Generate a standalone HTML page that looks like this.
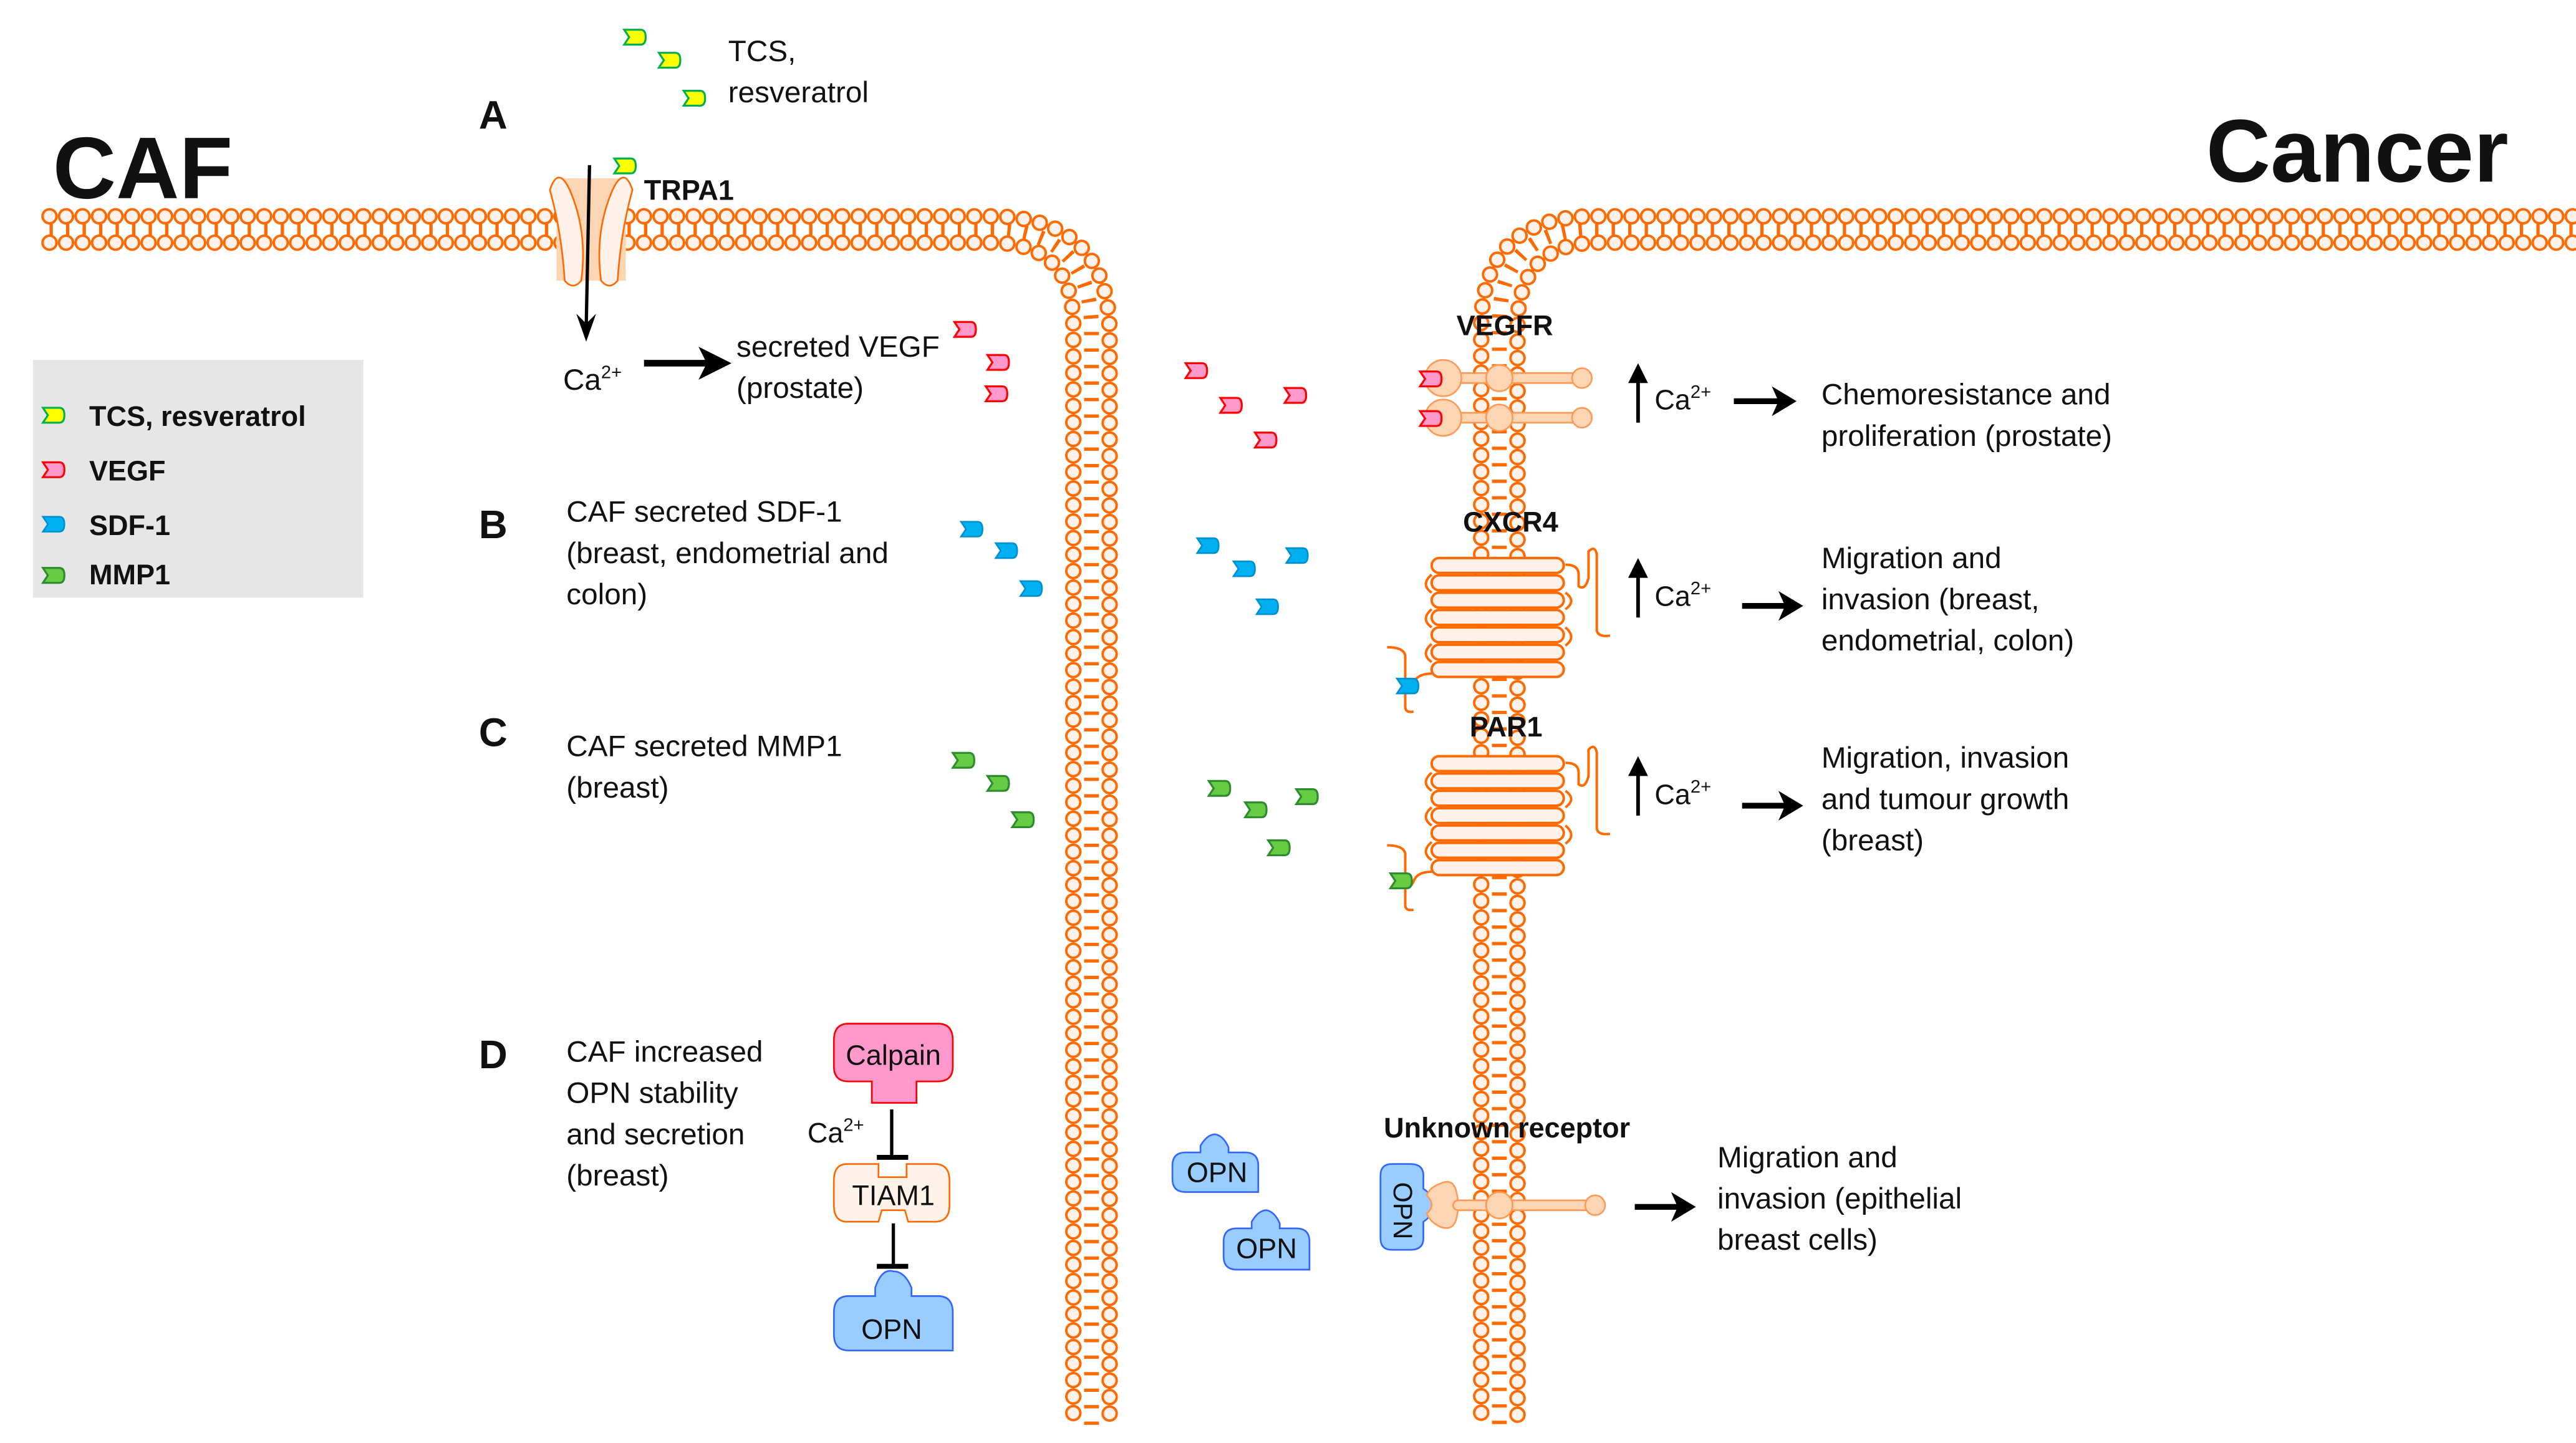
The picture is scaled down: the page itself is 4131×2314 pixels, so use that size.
<!DOCTYPE html>
<html><head><meta charset="utf-8"><style>
html,body{margin:0;padding:0;background:#fff;}
svg{display:block;}
text{font-family:"Liberation Sans",sans-serif;fill:#111;}
.b{font-weight:bold;}
</style></head><body>
<svg width="4131" height="2314" viewBox="0 0 1560 874" preserveAspectRatio="none" xmlns="http://www.w3.org/2000/svg">
<defs>
<path id="lig" d="M0 0 H10 Q13 0 13 4.5 Q13 9 10 9 H0 L3 4.5 Z"/>
<g id="tm">
 <rect x="0" y="0" width="80" height="9" rx="4.5"/>
 <rect x="0" y="10.5" width="80" height="9" rx="4.5"/>
 <rect x="0" y="21" width="80" height="9" rx="4.5"/>
 <rect x="0" y="31.5" width="80" height="9" rx="4.5"/>
 <rect x="0" y="42" width="80" height="9" rx="4.5"/>
 <rect x="0" y="52.5" width="80" height="9" rx="4.5"/>
 <rect x="0" y="63" width="80" height="9" rx="4.5"/>
</g>
</defs>
<rect width="1560" height="874" fill="#fff"/>

<!-- membranes -->
<g fill="none" stroke-linecap="round">
 <g stroke="#ff6a00">
  <path d="M30 139 H600 Q661 139 661 200 V865" stroke-width="9" stroke-dasharray="2 8" stroke-linecap="butt"/>
  <path d="M1558 139 H965 Q908 139 908 196 V865" stroke-width="9" stroke-dasharray="2 8" stroke-linecap="butt"/>
  <path d="M30 131 H600 Q672 131 672 203 V865" stroke-width="10" stroke-dasharray="0 10"/>
  <path d="M30 147 H600 Q650 147 650 197 V865" stroke-width="10" stroke-dasharray="0 10"/>
  <path d="M1558 131 H965 Q897 131 897 199 V865" stroke-width="10" stroke-dasharray="0 10"/>
  <path d="M1558 147 H968 Q919 147 919 198 V865" stroke-width="10" stroke-dasharray="0 10"/>
 </g>
 <g stroke="#fff2ea">
  <path d="M30 131 H600 Q672 131 672 203 V865" stroke-width="7" stroke-dasharray="0 10"/>
  <path d="M30 147 H600 Q650 147 650 197 V865" stroke-width="7" stroke-dasharray="0 10"/>
  <path d="M1558 131 H965 Q897 131 897 199 V865" stroke-width="7" stroke-dasharray="0 10"/>
  <path d="M1558 147 H968 Q919 147 919 198 V865" stroke-width="7" stroke-dasharray="0 10"/>
 </g>
</g>

<!-- titles -->
<text x="32" y="120" font-size="53" class="b">CAF</text>
<text x="1336" y="110" font-size="54" class="b">Cancer</text>
<text x="290" y="78" font-size="24" class="b">A</text>
<text x="290" y="326" font-size="24" class="b">B</text>
<text x="290" y="452" font-size="24" class="b">C</text>
<text x="290" y="647" font-size="24" class="b">D</text>

<!-- legend -->
<rect x="20" y="218" width="200" height="144" fill="#e6e6e6"/>
<use href="#lig" x="26" y="247" fill="#ffff00" stroke="#00b050" stroke-width="1.2"/>
<use href="#lig" x="26" y="280" fill="#ff99cc" stroke="#ff0000" stroke-width="1.2"/>
<use href="#lig" x="26" y="313" fill="#00b0f0" stroke="#0090d0" stroke-width="1"/>
<use href="#lig" x="26" y="344" fill="#66cc44" stroke="#2e8b2e" stroke-width="1.2"/>
<g font-size="17" class="b">
<text x="54" y="258" class="b">TCS, resveratrol</text>
<text x="54" y="291" class="b">VEGF</text>
<text x="54" y="324" class="b">SDF-1</text>
<text x="54" y="354" class="b">MMP1</text>
</g>

<!-- ligands -->
<g fill="#ffff00" stroke="#00b050" stroke-width="1.2">
 <use href="#lig" x="378" y="18"/><use href="#lig" x="399" y="32"/><use href="#lig" x="414" y="55"/><use href="#lig" x="372" y="96"/>
</g>
<g fill="#ff99cc" stroke="#ff0000" stroke-width="1.2">
 <use href="#lig" x="578" y="195"/><use href="#lig" x="598" y="215"/><use href="#lig" x="597" y="234"/>
 <use href="#lig" x="718" y="220"/><use href="#lig" x="739" y="241"/><use href="#lig" x="778" y="235"/><use href="#lig" x="760" y="262"/>
</g>
<g fill="#00b0f0" stroke="#0090d0" stroke-width="1">
 <use href="#lig" x="582" y="316"/><use href="#lig" x="603" y="329"/><use href="#lig" x="618" y="352"/>
 <use href="#lig" x="725" y="326"/><use href="#lig" x="747" y="340"/><use href="#lig" x="779" y="332"/><use href="#lig" x="761" y="363"/>
</g>
<g fill="#66cc44" stroke="#2e8b2e" stroke-width="1.2">
 <use href="#lig" x="577" y="456"/><use href="#lig" x="598" y="470"/><use href="#lig" x="613" y="492"/>
 <use href="#lig" x="732" y="473"/><use href="#lig" x="754" y="486"/><use href="#lig" x="785" y="478"/><use href="#lig" x="768" y="509"/>
</g>

<!-- A: TRPA1 -->
<text x="441" y="37" font-size="18">TCS,</text>
<text x="441" y="62" font-size="18">resveratrol</text>
<rect x="337" y="108" width="42" height="62" fill="#fcd5b5"/>
<path d="M333 115 Q338 100 345 115 Q356 140 352 170 Q347 176 342 170 Q340 140 333 115 Z" fill="#fff2ea" stroke="#ff6a00" stroke-width="1"/>
<path d="M383 115 Q378 100 371 115 Q360 140 364 170 Q369 176 374 170 Q376 140 383 115 Z" fill="#fff2ea" stroke="#ff6a00" stroke-width="1"/>
<text x="390" y="121" font-size="17" class="b">TRPA1</text>
<line x1="357" y1="100" x2="355" y2="198" stroke="#000" stroke-width="2"/>
<path d="M349 190 L355 207 L361 190 L355 196 Z" fill="#000"/>
<text x="341" y="236" font-size="18">Ca<tspan font-size="11" dy="-7">2+</tspan></text>
<line x1="390" y1="220" x2="432" y2="220" stroke="#000" stroke-width="4"/>
<path d="M423 210 L443 220 L423 230 L428 220 Z" fill="#000"/>
<text x="446" y="216" font-size="18">secreted VEGF</text>
<text x="446" y="241" font-size="18">(prostate)</text>

<!-- B, C text -->
<text x="343" y="316" font-size="18">CAF secreted SDF-1</text>
<text x="343" y="341" font-size="18">(breast, endometrial  and</text>
<text x="343" y="366" font-size="18">colon)</text>
<text x="343" y="458" font-size="18">CAF secreted MMP1</text>
<text x="343" y="483" font-size="18">(breast)</text>

<!-- VEGFR -->
<text x="882" y="203" font-size="17" class="b">VEGFR</text>
<g fill="#fcd5b5" stroke="#ff9a55" stroke-width="1">
 <rect x="872" y="226" width="88" height="6" rx="3"/>
 <rect x="872" y="250" width="88" height="6" rx="3"/>
 <circle cx="874" cy="229" r="11"/><circle cx="874" cy="253" r="11"/>
 <circle cx="908" cy="229" r="8"/><circle cx="908" cy="253" r="8"/>
 <circle cx="958" cy="229" r="6"/><circle cx="958" cy="253" r="6"/>
</g>
<g fill="#ff99cc" stroke="#ff0000" stroke-width="1.2">
 <use href="#lig" x="860" y="225"/><use href="#lig" x="860" y="249"/>
</g>

<!-- CXCR4 -->
<text x="886" y="322" font-size="17" class="b">CXCR4</text>
<use href="#tm" x="867" y="338" fill="#fff2ea" stroke="#ff6a00" stroke-width="1.5"/>
<path d="M948 342 Q956 342 956 348 V355 Q960 358 962 350 V334 Q966 330 967 336 V382 Q968 386 975 385" fill="none" stroke="#ff6a00" stroke-width="1.5"/>
<path d="M867 348 Q860 354 867 359 M867 369 Q860 375 867 380 M867 390 Q860 396 867 401 M948 359 Q955 364 948 369 M948 380 Q955 386 948 391" fill="none" stroke="#ff6a00" stroke-width="1.5"/>
<path d="M867 408 Q858 408 856 414 Q853 420 851 414 V397 Q850 392 840 392 M851 414 V428 Q851 432 856 431" fill="none" stroke="#ff6a00" stroke-width="1.5"/>
<use href="#lig" x="846" y="411" fill="#00b0f0" stroke="#0090d0" stroke-width="1"/>

<!-- PAR1 -->
<text x="890" y="446" font-size="17" class="b">PAR1</text>
<use href="#tm" x="867" y="458" fill="#fff2ea" stroke="#ff6a00" stroke-width="1.5"/>
<path d="M948 462 Q956 462 956 468 V475 Q960 478 962 470 V454 Q966 450 967 456 V502 Q968 506 975 505" fill="none" stroke="#ff6a00" stroke-width="1.5"/>
<path d="M867 468 Q860 474 867 479 M867 489 Q860 495 867 500 M867 510 Q860 516 867 521 M948 479 Q955 484 948 489 M948 500 Q955 506 948 511" fill="none" stroke="#ff6a00" stroke-width="1.5"/>
<path d="M867 528 Q858 528 856 534 Q853 540 851 534 V517 Q850 512 840 512 M851 534 V548 Q851 552 856 551" fill="none" stroke="#ff6a00" stroke-width="1.5"/>
<use href="#lig" x="842" y="529" fill="#66cc44" stroke="#2e8b2e" stroke-width="1.2"/>

<!-- Ca up arrows and outcomes -->
<g stroke="#000" stroke-width="2.2" fill="none">
 <line x1="992" y1="256" x2="992" y2="225"/><line x1="992" y1="374" x2="992" y2="343"/><line x1="992" y1="494" x2="992" y2="463"/>
</g>
<g fill="#000">
 <path d="M986 232 L992 220 L998 232 Z"/><path d="M986 350 L992 338 L998 350 Z"/><path d="M986 470 L992 458 L998 470 Z"/>
</g>
<text x="1002" y="248" font-size="17">Ca<tspan font-size="11" dy="-7">2+</tspan></text>
<text x="1002" y="367" font-size="17">Ca<tspan font-size="11" dy="-7">2+</tspan></text>
<text x="1002" y="487" font-size="17">Ca<tspan font-size="11" dy="-7">2+</tspan></text>
<g stroke="#000" stroke-width="3.5">
 <line x1="1050" y1="243" x2="1080" y2="243"/><line x1="1055" y1="367" x2="1084" y2="367"/><line x1="1055" y1="488" x2="1084" y2="488"/><line x1="990" y1="731" x2="1019" y2="731"/>
</g>
<g fill="#000">
 <path d="M1073 234 L1088 243 L1073 252 L1077 243 Z"/>
 <path d="M1077 358 L1092 367 L1077 376 L1081 367 Z"/>
 <path d="M1077 479 L1092 488 L1077 497 L1081 488 Z"/>
 <path d="M1012 722 L1027 731 L1012 740 L1016 731 Z"/>
</g>
<g font-size="18">
<text x="1103" y="245">Chemoresistance and</text>
<text x="1103" y="270">proliferation (prostate)</text>
<text x="1103" y="344">Migration and</text>
<text x="1103" y="369">invasion (breast,</text>
<text x="1103" y="394">endometrial,  colon)</text>
<text x="1103" y="465">Migration, invasion</text>
<text x="1103" y="490">and tumour  growth</text>
<text x="1103" y="515">(breast)</text>
<text x="1040" y="707">Migration and</text>
<text x="1040" y="732">invasion (epithelial</text>
<text x="1040" y="757">breast cells)</text>
<text x="343" y="643">CAF increased</text>
<text x="343" y="668">OPN stability</text>
<text x="343" y="693">and secretion</text>
<text x="343" y="718">(breast)</text>
</g>

<!-- D pathway -->
<path d="M514 620 H568 Q577 620 577 630 V646 Q577 655 568 655 H555 V668 H528 V655 H514 Q505 655 505 646 V630 Q505 620 514 620 Z" fill="#ff99cc" stroke="#ff0000" stroke-width="1"/>
<text x="541" y="645" font-size="17" text-anchor="middle">Calpain</text>
<text x="489" y="692" font-size="17">Ca<tspan font-size="11" dy="-7">2+</tspan></text>
<g stroke="#000" stroke-width="2"><line x1="540" y1="672" x2="540" y2="700"/><line x1="531" y1="701" x2="550" y2="701" stroke-width="3"/>
<line x1="541" y1="741" x2="541" y2="766"/><line x1="531" y1="767" x2="550" y2="767" stroke-width="3"/></g>
<path d="M513 705 H532 V713 H549 V705 H566 Q575 705 575 715 V730 Q575 740 566 740 H550 L548 733 H534 L532 740 H513 Q505 740 505 730 V715 Q505 705 513 705 Z" fill="#fff2ea" stroke="#ff6a00" stroke-width="1"/>
<text x="541" y="730" font-size="17" text-anchor="middle">TIAM1</text>
<path d="M514 785 H530 V780 Q534 768 541 770 Q548 770 552 780 V785 H568 Q577 785 577 795 V818 H514 Q505 818 505 808 V795 Q505 785 514 785 Z" fill="#99ccff" stroke="#3366ff" stroke-width="1"/>
<text x="540" y="811" font-size="17" text-anchor="middle">OPN</text>
<path d="M718 698 H727 V694 Q731 687 736 687 Q741 688 744 695 V698 H754 Q762 698 762 706 V722 H718 Q710 722 710 714 V706 Q710 698 718 698 Z" fill="#99ccff" stroke="#3366ff" stroke-width="1"/>
<text x="737" y="716" font-size="17" text-anchor="middle">OPN</text>
<path d="M749 744 H758 V740 Q762 733 767 733 Q772 734 775 741 V744 H785 Q793 744 793 752 V769 H749 Q741 769 741 761 V752 Q741 744 749 744 Z" fill="#99ccff" stroke="#3366ff" stroke-width="1"/>
<text x="767" y="762" font-size="17" text-anchor="middle">OPN</text>
<text x="838" y="689" font-size="17" class="b">Unknown receptor</text>
<path d="M843 705 Q836 705 836 712 V750 Q836 757 843 757 H854 Q862 757 862 750 V740 Q868 736 868 730 Q868 724 862 720 V712 Q862 705 854 705 Z" fill="#99ccff" stroke="#3366ff" stroke-width="1"/>
<text x="0" y="0" font-size="16" transform="translate(844 716) rotate(90)">OPN</text>
<g fill="#fcd5b5" stroke="#ff9a55" stroke-width="1">
 <path d="M872 717 Q880 713 882 722 Q884 730 882 738 Q880 746 872 743 Q866 740 864 735 Q870 730 864 724 Q866 719 872 717 Z"/>
 <rect x="880" y="727" width="90" height="6" rx="3"/>
 <circle cx="908" cy="730" r="8"/>
 <circle cx="966" cy="730" r="6"/>
</g>
</svg>
</body></html>
